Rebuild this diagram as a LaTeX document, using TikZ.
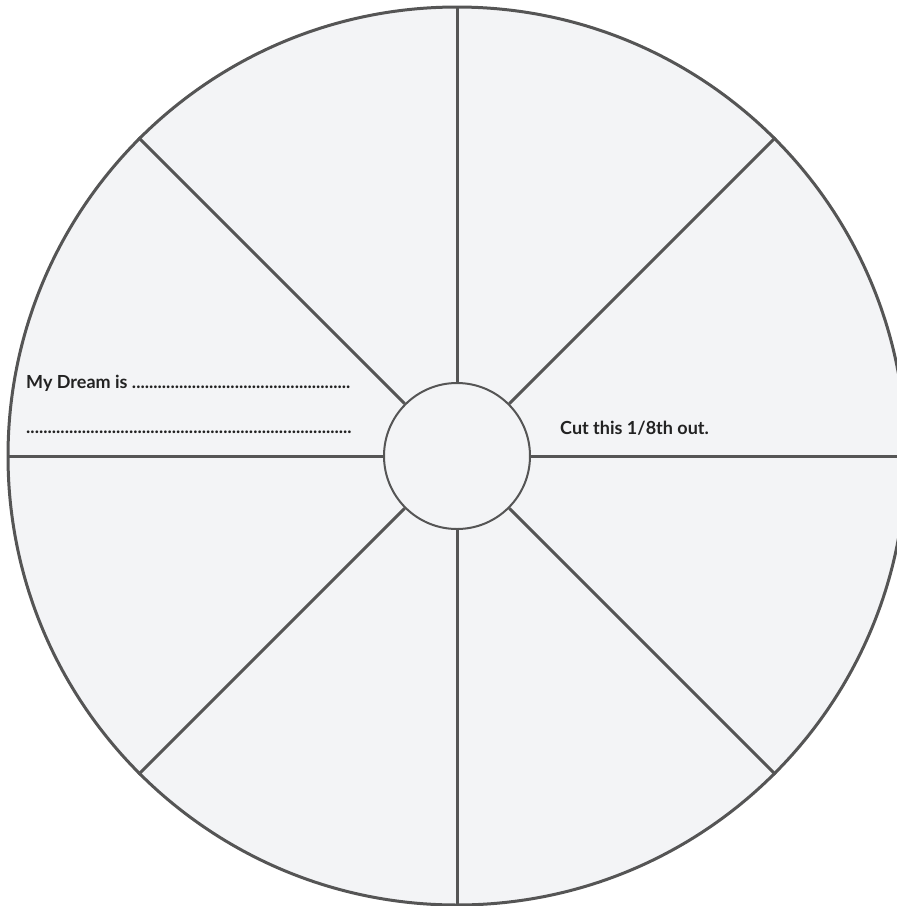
\documentclass[tikz,border=0pt]{standalone}
\usepackage{fontspec}
\setmainfont{Lato}
\usepackage{xcolor}
\usepackage{tikz}
\usetikzlibrary{shapes.geometric, positioning}
\definecolor{wheelfill}{HTML}{F3F4F6}
\definecolor{wheelline}{HTML}{555555}
\definecolor{wheeltext}{HTML}{222222}

\newcommand{\dotline}[1]{\makebox[#1][l]{\leaders\hbox{.}\hfill}}

\begin{document}
\begin{tikzpicture}[
    x=1pt, y=-1pt,
    wheel/.style={circle, draw=wheelline, fill=wheelfill, line width=3pt,
        minimum size=898pt, inner sep=0pt},
    hub/.style={circle, draw=wheelline, fill=wheelfill, line width=2pt,
        minimum size=146pt, inner sep=0pt},
    spoke/.style={draw=wheelline, line width=3pt},
    lbl/.style={font=\fontsize{18}{21}\selectfont\bfseries, color=wheeltext,
        inner sep=0pt}
]
    \useasboundingbox (0,0) rectangle (897,906);
    \clip (0,0) rectangle (897,906);

    % === wheel and hub ===
    \node[wheel] (wheel) at (457,456) {};
    \node[hub]   (hub)   at (457,456) {};

    % --- spokes ---
    \foreach \a in {0,45,...,315}
        \draw[spoke] (hub.\a) -- (wheel.\a);

    % === labels ===
    \node[lbl, anchor=base west] (dream) at (26,388)
        {My Dream is \dotline{221pt}};
    \node[lbl, anchor=base west] (dots) at (26,433) {\dotline{326pt}};
    \node[lbl, anchor=base west] (cut) at (560,434) {Cut this 1/8th out.};
\end{tikzpicture}
\end{document}
